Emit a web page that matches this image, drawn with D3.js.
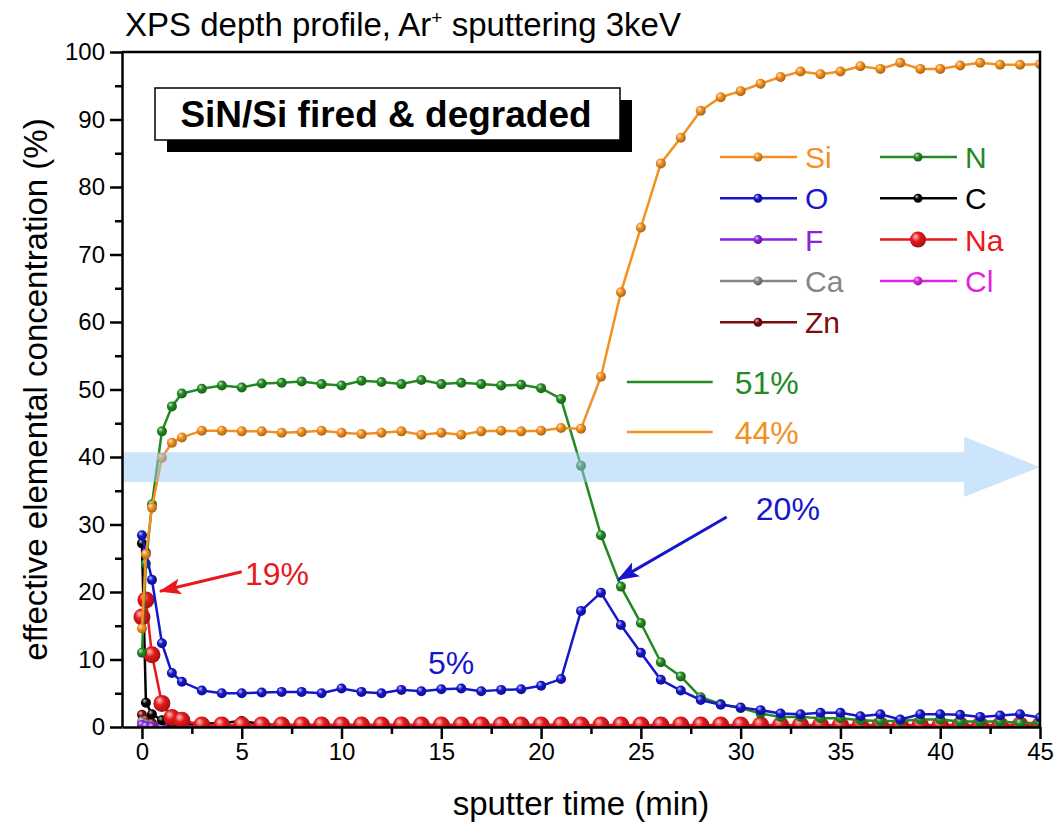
<!DOCTYPE html>
<html>
<head>
<meta charset="utf-8">
<script src="https://cdn.jsdelivr.net/npm/d3@7"></script>
<style>
  body { margin: 0; background: #fff; }
  svg { display: block; font-family: "Liberation Sans", Arial, sans-serif; }
</style>
</head>
<body>
<svg id="chart"></svg>
<script>
// sputter time (min)
const times = [0, 0.2, 0.5, 1, 1.5, 2, 3, 4, 5, 6, 7, 8, 9, 10, 11, 12, 13, 14, 15, 16, 17, 18, 19, 20,
    21, 22, 23, 24, 25, 26, 27, 28, 29, 30, 31, 32, 33, 34, 35, 36, 37, 38, 39, 40, 41, 42, 43, 44, 45];

// effective elemental concentration (%)
const si = [14.6, 25.6, 32.5, 39.9, 42.1, 42.9, 43.9, 43.9, 43.8, 43.8, 43.6, 43.7, 43.9, 43.6, 43.4, 43.6,
    43.8, 43.3, 43.6, 43.3, 43.8, 43.9, 43.8, 43.9, 44.3, 44.2, 51.9, 64.4, 74.0, 83.5, 87.3, 91.3, 93.3, 94.2,
    95.3, 96.3, 97.1, 96.7, 97.1, 97.9, 97.5, 98.4, 97.5, 97.5, 98.0, 98.4, 98.1, 98.1, 98.2];
const n = [11.0, 24.2, 33.0, 43.8, 47.5, 49.4, 50.1, 50.6, 50.3, 50.9, 51.0, 51.2, 50.8, 50.6, 51.3, 51.1,
    50.8, 51.4, 50.8, 51.0, 50.8, 50.6, 50.7, 50.2, 48.6, 38.7, 28.4, 20.8, 15.4, 9.6, 7.5, 4.4, 3.4, 2.8,
    2.0, 1.5, 1.5, 1.3, 1.3, 1.0, 0.9, 0.9, 1.1, 1.1, 0.8, 0.8, 0.8, 0.6, 0.6];
const o = [28.4, 25.8, 21.8, 12.4, 8.0, 6.7, 5.4, 5.0, 5.0, 5.1, 5.2, 5.2, 5.0, 5.7, 5.2, 5.0,
    5.5, 5.3, 5.6, 5.7, 5.3, 5.5, 5.6, 6.1, 7.1, 17.2, 19.9, 15.1, 11.0, 7.0, 5.4, 4.0, 3.3, 2.9,
    2.5, 2.0, 1.9, 2.1, 2.1, 1.6, 1.9, 1.1, 1.9, 1.9, 1.8, 1.5, 1.7, 1.9, 1.4];
const c = [27.2, 3.6, 1.9, 1.0, 0.6, 0.5, 0.5, 0.6, 0.9, 0.4, 0.3, 0.3, 0.3, 0.3, 0.3, 0.3,
    0.3, 0.3, 0.3, 0.3, 0.3, 0.3, 0.3, 0.3, 0.3, 0.3, 0.2, 0.2, 0.2, 0.2, 0.2, 0.2, 0.2, 0.2,
    0.2, 0.2, 0.2, 0.2, 0.2, 0.2, 0.2, 0.2, 0.2, 0.2, 0.2, 0.2, 0.2, 0.2, 0.2];
const f = [0.3, 0.1, 0, 0, 0, 0, 0, 0, 0, 0, 0, 0, 0, 0, 0, 0,
    0, 0, 0, 0, 0, 0, 0, 0, 0, 0, 0, 0, 0, 0, 0, 0, 0, 0,
    0, 0, 0, 0, 0, 0, 0, 0, 0, 0, 0, 0, 0, 0, 0];
const na = [16.3, 18.8, 10.7, 3.5, 1.4, 1.0, 0.3, 0.3, 0.3, 0.3, 0.3, 0.3, 0.3, 0.3, 0.3, 0.3,
    0.3, 0.3, 0.3, 0.3, 0.3, 0.3, 0.3, 0.3, 0.3, 0.3, 0.3, 0.3, 0.3, 0.3, 0.3, 0.3, 0.3, 0.3,
    0.3, 0.3, 0.3, 0.3, 0.3, 0.3, 0.3, 0.3, 0.3, 0.3, 0.3, 0.3, 0.3, 0.3, 0.3];
const ca = [0.8, 0.4, 0.1, 0, 0, 0, 0, 0, 0, 0, 0, 0, 0, 0, 0, 0,
    0, 0, 0, 0, 0, 0, 0, 0, 0, 0, 0, 0, 0, 0, 0, 0, 0, 0,
    0, 0, 0, 0, 0, 0, 0, 0, 0, 0, 0, 0, 0, 0, 0];
const cl = [0.5, 0.2, 0.1, 0, 0, 0, 0, 0, 0, 0, 0, 0, 0, 0, 0, 0,
    0, 0, 0, 0, 0, 0, 0, 0, 0, 0, 0, 0, 0, 0, 0, 0, 0, 0,
    0, 0, 0, 0, 0, 0, 0, 0, 0, 0, 0, 0, 0, 0, 0];
const zn = [1.8, 1.1, 0.6, 0.2, 0.1, 0.1, 0.1, 0.1, 0.1, 0.1, 0.1, 0.1, 0.1, 0.1, 0.1, 0.1,
    0.1, 0.1, 0.1, 0.1, 0.1, 0.1, 0.1, 0.1, 0.1, 0.1, 0.1, 0.1, 0.1, 0.1, 0.1, 0.1, 0.1, 0.1,
    0.1, 0.1, 0.1, 0.1, 0.1, 0.1, 0.1, 0.1, 0.1, 0.1, 0.1, 0.1, 0.1, 0.1, 0.1];

const xTicks = [0, 5, 10, 15, 20, 25, 30, 35, 40, 45];
const xMinorTicks = [2.5, 7.5, 12.5, 17.5, 22.5, 27.5, 32.5, 37.5, 42.5];
const yTicks = [0, 10, 20, 30, 40, 50, 60, 70, 80, 90, 100];
const yMinorTicks = [5, 15, 25, 35, 45, 55, 65, 75, 85, 95];

// drawing order (bottom first)
const series = [
    { name: "Zn", values: zn, color: "#7d0b0b", r: 5 },
    { name: "Cl", values: cl, color: "#e023e0", r: 5 },
    { name: "Ca", values: ca, color: "#868686", r: 5 },
    { name: "F", values: f, color: "#8a22e0", r: 5 },
    { name: "C", values: c, color: "#000000", r: 5 },
    { name: "Na", values: na, color: "#e8191c", r: 8.5 },
    { name: "N", values: n, color: "#228a22", r: 5 },
    { name: "O", values: o, color: "#1616cc", r: 5 },
    { name: "Si", values: si, color: "#f3901f", r: 5 }
];

const legendRows = [["Si", "N"], ["O", "C"], ["F", "Na"], ["Ca", "Cl"], ["Zn"]];

const width = 1057, height = 830;
const margin = { top: 52, right: 17, bottom: 103, left: 122 };

const svg = d3.select("#chart")
    .attr("width", width)
    .attr("height", height);

const x = d3.scaleLinear().domain([-1, 45]).range([margin.left, width - margin.right]);
const y = d3.scaleLinear().domain([0, 100]).range([height - margin.bottom, margin.top]);

const defs = svg.append("defs");

// ball-shaped markers
series.forEach(s => {
    const g = defs.append("radialGradient")
        .attr("id", "ball-" + s.name)
        .attr("cx", "40%").attr("cy", "40%").attr("r", "60%")
        .attr("fx", "35%").attr("fy", "30%");
    g.append("stop").attr("offset", "0%").attr("stop-color", d3.interpolateRgb(s.color, "#fff")(0.75));
    g.append("stop").attr("offset", "45%").attr("stop-color", s.color);
    g.append("stop").attr("offset", "100%").attr("stop-color", d3.interpolateRgb(s.color, "#000")(0.3));
});

defs.append("clipPath").attr("id", "plot-clip")
    .append("rect")
    .attr("x", margin.left)
    .attr("y", margin.top)
    .attr("width", width - margin.left - margin.right)
    .attr("height", height - margin.top - margin.bottom);

["blue", "red"].forEach(k => {
    defs.append("marker")
        .attr("id", "head-" + k)
        .attr("markerUnits", "userSpaceOnUse")
        .attr("markerWidth", 22).attr("markerHeight", 16)
        .attr("refX", 21).attr("refY", 8)
        .attr("orient", "auto")
        .append("path")
        .attr("d", "M0,0 L22,8 L0,16 L5,8 Z")
        .attr("fill", k === "blue" ? "#1616cc" : "#e8191c");
});

// Series lines and markers
const plot = svg.append("g").attr("clip-path", "url(#plot-clip)");
const line = d3.line()
    .x((d, i) => x(times[i]))
    .y(d => y(d));

series.forEach(s => {
    const g = plot.append("g");
    g.append("path")
        .datum(s.values)
        .attr("fill", "none")
        .attr("stroke", s.color)
        .attr("stroke-width", 2.5)
        .attr("d", line);
    g.selectAll("circle")
        .data(s.values)
        .join("circle")
        .attr("cx", (d, i) => x(times[i]))
        .attr("cy", d => y(d))
        .attr("r", s.r)
        .attr("fill", "url(#ball-" + s.name + ")");
});

// Light blue arrow (drawn over the data)
const band = [
    [x(-1), y(40.7)], [x(41.2), y(40.7)], [x(41.2), y(43.0)], [x(45), y(38.5)],
    [x(41.2), y(34.1)], [x(41.2), y(36.3)], [x(-1), y(36.3)]
];
svg.append("path")
    .attr("d", "M" + band.join("L") + "Z")
    .attr("fill", "#9ccbf5")
    .attr("fill-opacity", 0.5);

// Axes
svg.append("g")
    .attr("transform", `translate(0, ${y(0)})`)
    .call(d3.axisBottom(x).tickValues(xTicks).tickSize(12).tickSizeOuter(0).tickPadding(4));
svg.append("g")
    .attr("transform", `translate(0, ${y(0)})`)
    .call(d3.axisBottom(x).tickValues(xMinorTicks).tickSize(7).tickFormat(""))
    .call(g => g.select(".domain").remove());

svg.append("g")
    .attr("transform", `translate(${x(-1)}, 0)`)
    .call(d3.axisLeft(y).tickValues(yTicks).tickSize(12).tickSizeOuter(0).tickPadding(5));
svg.append("g")
    .attr("transform", `translate(${x(-1)}, 0)`)
    .call(d3.axisLeft(y).tickValues(yMinorTicks).tickSize(7).tickFormat(""))
    .call(g => g.select(".domain").remove());

svg.selectAll(".tick line").attr("stroke", "#000").attr("stroke-width", 2.5);
svg.selectAll(".domain").attr("stroke", "#000").attr("stroke-width", 2.5);
svg.selectAll(".tick text")
    .attr("fill", "#000")
    .style("font-size", "24px")
    .style("font-family", "'Liberation Sans', Arial, sans-serif");

// top and right frame lines
svg.append("path")
    .attr("d", `M${x(-1)},${y(100)} H${x(45)} V${y(0)}`)
    .attr("fill", "none")
    .attr("stroke", "#000")
    .attr("stroke-width", 2.5);

// Title
const title = svg.append("text")
    .attr("x", 125)
    .attr("y", 36)
    .attr("font-size", 33)
    .attr("fill", "#000");
title.append("tspan").text("XPS depth profile, Ar");
title.append("tspan").attr("dy", -12).attr("font-size", 19).text("+");
title.append("tspan").attr("dy", 12).text(" sputtering 3keV");

// Axis labels
svg.append("text")
    .attr("x", (x(-1) + x(45)) / 2)
    .attr("y", 815)
    .attr("text-anchor", "middle")
    .attr("font-size", 33)
    .text("sputter time (min)");

svg.append("text")
    .attr("transform", `translate(47, ${(y(0) + y(100)) / 2}) rotate(-90)`)
    .attr("text-anchor", "middle")
    .attr("font-size", 33)
    .text("effective elemental concentration (%)");

// Sample box with shadow
svg.append("rect")
    .attr("x", 167).attr("y", 100)
    .attr("width", 465).attr("height", 52)
    .attr("fill", "#000");
svg.append("rect")
    .attr("x", 155).attr("y", 88)
    .attr("width", 465).attr("height", 52)
    .attr("fill", "#fff")
    .attr("stroke", "#000")
    .attr("stroke-width", 1.5);
svg.append("text")
    .attr("x", 386).attr("y", 127)
    .attr("text-anchor", "middle")
    .attr("font-size", 37)
    .attr("font-weight", "bold")
    .text("SiN/Si fired & degraded");

// Legend
const colorOf = {};
series.forEach(s => colorOf[s.name] = s);
const legend = svg.append("g");
legendRows.forEach((row, ri) => {
    row.forEach((name, ci) => {
        const s = colorOf[name];
        const ly = 157 + ri * 41.3;
        const lx = 720 + ci * 160;
        legend.append("line")
            .attr("x1", lx).attr("x2", lx + 77)
            .attr("y1", ly).attr("y2", ly)
            .attr("stroke", s.color)
            .attr("stroke-width", 2.5);
        legend.append("circle")
            .attr("cx", lx + 38).attr("cy", ly)
            .attr("r", name === "Na" ? 8 : 4.5)
            .attr("fill", "url(#ball-" + name + ")");
        legend.append("text")
            .attr("x", lx + 85).attr("y", ly + 11)
            .attr("font-size", 30)
            .attr("fill", s.color)
            .text(name);
    });
});

// Annotations
const ann = svg.append("g").attr("font-size", 32);

ann.append("line")
    .attr("x1", x(24.3)).attr("x2", x(28.6))
    .attr("y1", y(51.1)).attr("y2", y(51.1))
    .attr("stroke", "#228a22").attr("stroke-width", 2.5);
ann.append("text")
    .attr("x", x(29.7)).attr("y", y(51.1) + 12)
    .attr("fill", "#228a22")
    .text("51%");

ann.append("line")
    .attr("x1", x(24.3)).attr("x2", x(28.6))
    .attr("y1", y(43.7)).attr("y2", y(43.7))
    .attr("stroke", "#f3901f").attr("stroke-width", 2.5);
ann.append("text")
    .attr("x", x(29.7)).attr("y", y(43.7) + 12)
    .attr("fill", "#f3901f")
    .text("44%");

ann.append("line")
    .attr("x1", x(29.3)).attr("y1", y(31.1))
    .attr("x2", x(23.85)).attr("y2", y(21.8))
    .attr("stroke", "#1616cc").attr("stroke-width", 3)
    .attr("marker-end", "url(#head-blue)");
ann.append("text")
    .attr("x", x(30.76)).attr("y", y(30.7))
    .attr("fill", "#1616cc")
    .text("20%");

ann.append("line")
    .attr("x1", x(5.0)).attr("y1", y(23.0))
    .attr("x2", x(0.9)).attr("y2", y(20.1))
    .attr("stroke", "#e8191c").attr("stroke-width", 3)
    .attr("marker-end", "url(#head-red)");
ann.append("text")
    .attr("x", x(5.16)).attr("y", y(21.0))
    .attr("fill", "#e8191c")
    .text("19%");

ann.append("text")
    .attr("x", x(14.33)).attr("y", y(7.85))
    .attr("fill", "#1616cc")
    .text("5%");
</script>
</body>
</html>
